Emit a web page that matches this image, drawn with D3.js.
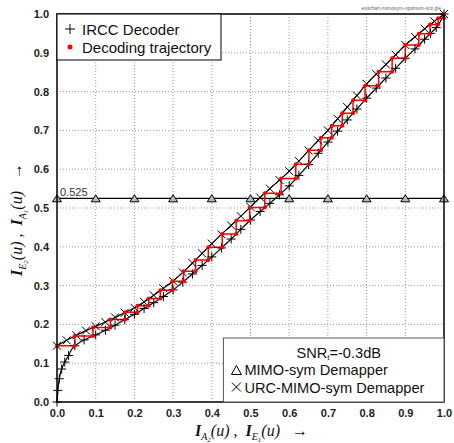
<!DOCTYPE html>
<html>
<head>
<meta charset="utf-8">
<script src="https://cdn.jsdelivr.net/npm/d3@7"></script>
<style>
  body { margin: 0; background: #fff; }
</style>
</head>
<body>
<div id="chart"></div>
<script>
// URC-MIMO-sym demapper curve (x markers)
const demapX = [0, .025, .05, .075, .1, .125, .15, .175, .2, .225, .25, .275, .3, .325, .35, .375, .4, .425, .45, .475, .5, .525, .55, .575, .6, .625, .65, .675, .7, .725, .75, .775, .8, .825, .85, .875, .9, .925, .95, .975, 1];
const demapY = [.145, .159, .172, .184, .195, .206, .218, .23, .243, .258, .275, .293, .312, .334, .358, .383, .408, .432, .455, .479, .503, .527, .55, .572, .595, .621, .648, .674, .70, .73, .76, .79, .82, .845, .87, .895, .92, .941, .962, .981, 1.0];

// IRCC decoder curve (+ markers), axes swapped
const irccX = [0, .002, .006, .012, .02, .03, .046, .07, .1, .125, .15, .175, .2, .225, .25, .275, .3, .325, .35, .375, .4, .425, .45, .475, .5, .525, .55, .575, .6, .625, .65, .675, .7, .725, .75, .775, .8, .825, .85, .875, .9, .925, .95, .965, .98, 1];
const irccY = [0, .03, .06, .085, .103, .12, .145, .16, .173, .185, .198, .212, .226, .241, .256, .272, .289, .309, .33, .352, .374, .397, .42, .445, .469, .491, .512, .534, .557, .584, .612, .641, .67, .698, .727, .755, .783, .809, .835, .86, .886, .91, .935, .95, .965, 1.0];

// decoding trajectory corners
const trajX = [0, .046, .093, .138, .176, .208, .237, .267, .298, .327, .358, .391, .427, .463, .498, .537, .579, .617, .651, .682, .71, .737, .765, .796, .831, .866, .9, .935, .964, .985, 1.0];
const trajY = [.145, .170, .192, .2125, .231, .248, .267, .288, .311, .337, .366, .399, .433, .467, .501, .538, .576, .613, .649, .681, .712, .744, .778, .815, .851, .886, .92, .949, .973, .989, 1.0];

// MIMO-sym demapper (flat)
const mimoX = [0, .1, .2, .3, .4, .5, .6, .7, .8, .9, 1.0];
const mimoY = [.525, .525, .525, .525, .525, .525, .525, .525, .525, .525, .525];

const ticks = [0, .1, .2, .3, .4, .5, .6, .7, .8, .9, 1.0];

const width = 454, height = 443;
const margin = {top: 14, right: 10, bottom: 41, left: 57};
const w = width - margin.left - margin.right;
const h = height - margin.top - margin.bottom;

const svg = d3.select("#chart").append("svg")
  .attr("width", width)
  .attr("height", height)
  .style("font-family", "'Liberation Sans', Arial, sans-serif");

const g = svg.append("g")
  .attr("transform", `translate(${margin.left},${margin.top})`);

const x = d3.scaleLinear().domain([0, 1]).range([0, w]);
const y = d3.scaleLinear().domain([0, 1]).range([h, 0]);

// grid
g.append("g").selectAll("line").data(ticks.slice(1, -1)).enter().append("line")
  .attr("x1", d => x(d)).attr("x2", d => x(d))
  .attr("y1", 0).attr("y2", h)
  .attr("stroke", "#999").attr("stroke-width", 1).attr("stroke-dasharray", "1,2");
g.append("g").selectAll("line").data(ticks.slice(1, -1)).enter().append("line")
  .attr("y1", d => y(d)).attr("y2", d => y(d))
  .attr("x1", 0).attr("x2", w)
  .attr("stroke", "#999").attr("stroke-width", 1).attr("stroke-dasharray", "1,2");

// axes (labels only)
const xAxis = g.append("g")
  .attr("transform", `translate(0,${h})`)
  .call(d3.axisBottom(x).tickValues(ticks).tickFormat(d3.format(".1f")).tickSize(0).tickPadding(7));
const yAxis = g.append("g")
  .call(d3.axisLeft(y).tickValues(ticks).tickFormat(d3.format(".1f")).tickSize(0).tickPadding(8));
[xAxis, yAxis].forEach(a => {
  a.select(".domain").remove();
  a.selectAll("text")
    .attr("font-family", "'Liberation Sans', Arial, sans-serif")
    .attr("font-size", 11).attr("font-weight", "bold").attr("fill", "#222");
});

const line = d3.line().x(d => x(d[0])).y(d => y(d[1]));

// MIMO-sym demapper line
const mimoPts = mimoX.map((d, i) => [d, mimoY[i]]);
g.append("path").datum(mimoPts)
  .attr("d", line).attr("fill", "none").attr("stroke", "#000").attr("stroke-width", 1.3);

g.append("text")
  .attr("x", x(0) + 3).attr("y", y(mimoY[0]) - 2.5)
  .attr("font-size", 11).attr("fill", "#333")
  .text("0.525");

// curves
const demapPts = demapX.map((d, i) => [d, demapY[i]]);
const irccPts = irccX.map((d, i) => [d, irccY[i]]);
const curve = d3.line().curve(d3.curveMonotoneX).x(d => x(d[0])).y(d => y(d[1]));
g.append("path").datum(demapPts)
  .attr("d", curve).attr("fill", "none").attr("stroke", "#000").attr("stroke-width", 1.2);
g.append("path").datum(irccPts)
  .attr("d", d3.line().curve(d3.curveMonotoneY).x(d => x(d[0])).y(d => y(d[1])))
  .attr("fill", "none").attr("stroke", "#000").attr("stroke-width", 1.2);

// trajectory
const trajPts = [];
trajX.forEach((d, i) => {
  if (i > 0) trajPts.push([d, trajY[i - 1]]);
  trajPts.push([d, trajY[i]]);
});
g.append("path").datum(trajPts)
  .attr("d", line).attr("fill", "none").attr("stroke", "#f00").attr("stroke-width", 1.5);

// markers
const crossX = "M-4,-4L4,4M-4,4L4,-4";
const plus = "M-4.5,0H4.5M0,-4.5V4.5";
g.append("g").selectAll("path").data(demapPts).enter().append("path")
  .attr("transform", d => `translate(${x(d[0])},${y(d[1])})`)
  .attr("d", crossX).attr("stroke", "#000").attr("stroke-width", 1);
g.append("g").selectAll("path").data(irccPts).enter().append("path")
  .attr("transform", d => `translate(${x(d[0])},${y(d[1])})`)
  .attr("d", plus).attr("stroke", "#000").attr("stroke-width", 1);

g.append("g").selectAll("circle").data(trajPts).enter().append("circle")
  .attr("cx", d => x(d[0])).attr("cy", d => y(d[1]))
  .attr("r", 2).attr("fill", "#f00");

const tri = "M-4.5,3.5L0,-3.5L4.5,3.5Z";
g.append("g").selectAll("path").data(mimoPts).enter().append("path")
  .attr("transform", d => `translate(${x(d[0])},${y(d[1])})`)
  .attr("d", tri).attr("fill", "#bbb").attr("stroke", "#000").attr("stroke-width", 1);

// frame
g.append("rect").attr("width", w).attr("height", h)
  .attr("fill", "none").attr("stroke", "#000").attr("stroke-width", 1.5);

// legend top-left
const lg1 = g.append("g");
lg1.append("rect").attr("x", 0).attr("y", 0).attr("width", 164).attr("height", 46)
  .attr("fill", "#fff").attr("stroke", "#000").attr("stroke-width", 1);
lg1.append("path").attr("transform", "translate(13,15)")
  .attr("d", "M-5,0H5M0,-5V5").attr("stroke", "#000").attr("stroke-width", 1);
lg1.append("text").attr("x", 25).attr("y", 20.5).attr("font-size", 15).attr("fill", "#111").text("IRCC Decoder");
lg1.append("circle").attr("cx", 13).attr("cy", 33).attr("r", 2.5).attr("fill", "#f00");
lg1.append("text").attr("x", 25).attr("y", 38.5).attr("font-size", 15).attr("fill", "#111").text("Decoding trajectory");

// legend bottom-right
const lg2 = g.append("g").attr("transform", `translate(${x(0.43)},${h - 64})`);
lg2.append("rect").attr("width", w - x(0.43)).attr("height", 64)
  .attr("fill", "#fff").attr("stroke", "#555").attr("stroke-width", 1);
const snr = lg2.append("text").attr("x", 73).attr("y", 19.5).attr("font-size", 14.6).attr("fill", "#111");
snr.append("tspan").text("SNR");
snr.append("tspan").attr("font-size", 8).attr("dy", 2).text("t");
snr.append("tspan").attr("dy", -2).text("=-0.3dB");
lg2.append("path").attr("transform", "translate(13,32)")
  .attr("d", "M-5,4.5L0,-4.5L5,4.5Z").attr("fill", "none").attr("stroke", "#000").attr("stroke-width", 1);
lg2.append("text").attr("x", 21).attr("y", 37).attr("font-size", 14.6).attr("fill", "#111").text("MIMO-sym Demapper");
lg2.append("path").attr("transform", "translate(13,49)")
  .attr("d", "M-4.5,-4.5L4.5,4.5M-4.5,4.5L4.5,-4.5").attr("stroke", "#000").attr("stroke-width", 1);
lg2.append("text").attr("x", 21).attr("y", 54.5).attr("font-size", 14.6).attr("fill", "#111").text("URC-MIMO-sym Demapper");

// file tag
svg.append("text").attr("x", 441).attr("y", 10).attr("text-anchor", "end")
  .attr("font-size", 5).attr("fill", "#666").text("exitchart-mimosym-optimum-scii.gle");

// axis titles
function mathLabel(sel, a, b) {
  const serif = "'Liberation Serif', 'DejaVu Serif', serif";
  sel.attr("font-family", serif).attr("font-style", "italic").attr("fill", "#111");
  const part = (main, sub, subsub) => {
    sel.append("tspan").attr("font-size", 16).attr("font-weight", "bold").text(main);
    sel.append("tspan").attr("font-size", 10).attr("dy", 4).text(sub);
    sel.append("tspan").attr("font-size", 7).attr("dy", 2).text(subsub);
    sel.append("tspan").attr("font-size", 16).attr("dy", -6).text("(u)");
  };
  part("I", a[0], a[1]);
  sel.append("tspan").attr("font-size", 16).attr("font-style", "normal").text("\u00a0,\u00a0\u00a0");
  part("I", b[0], b[1]);
  sel.append("tspan").attr("font-size", 16).attr("font-style", "normal").text("\u00a0\u00a0\u00a0\u2192");
}
mathLabel(svg.append("text").attr("x", 195).attr("y", 436), ["A", "2"], ["E", "1"]);
mathLabel(svg.append("text").attr("transform", "translate(22,276) rotate(-90)"), ["E", "2"], ["A", "1"]);
</script>
</body>
</html>
